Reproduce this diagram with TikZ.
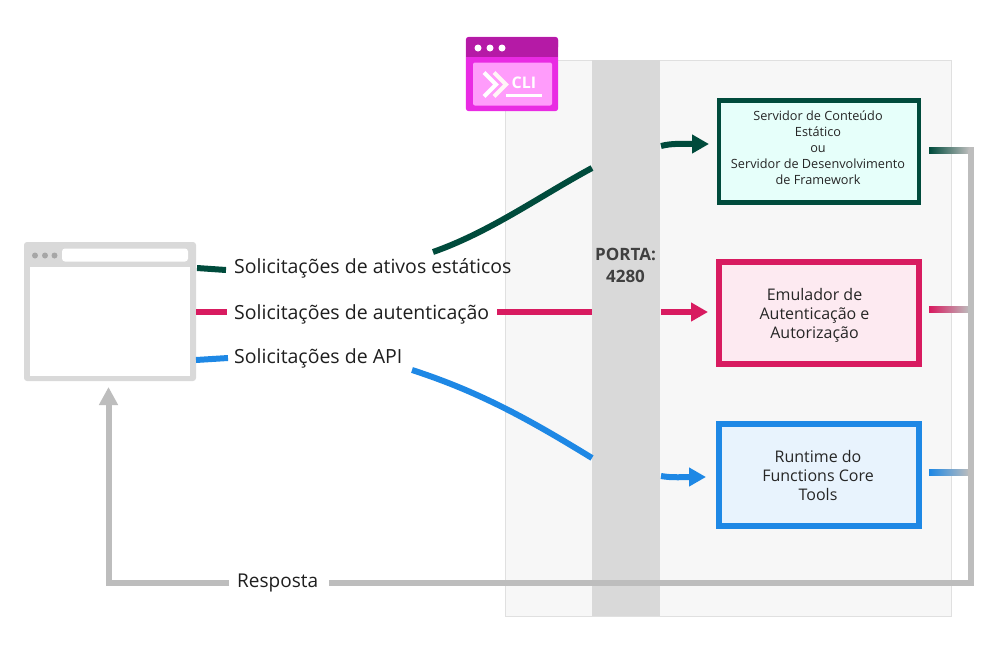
\documentclass[tikz,border=0pt]{standalone}
\usepackage{fontspec}
\setmainfont{Open Sans}
\usetikzlibrary{arrows.meta,positioning}
\definecolor{verde}{HTML}{004B3C}
\definecolor{rosa}{HTML}{D81B60}
\definecolor{azul}{HTML}{1E88E5}
\definecolor{cinza}{HTML}{BDBDBD}
\definecolor{porta}{HTML}{D9D9D9}
\tikzset{
	caixa/.style={draw, line width=#1, inner sep=0pt},
	texto/.style={align=center, inner sep=0pt, text=black!85},
	rotulo/.style={font=\fontsize{19.5}{22}\selectfont, text=black!88, inner sep=0pt, anchor=west},
	fluxo/.style={line width=6pt},
	seta/.style={line width=6pt, -{Triangle[length=17pt,width=18pt]}},
	retorno/.style={draw=cinza, line width=6pt},
	saida/.style={minimum width=40pt, minimum height=6pt, inner sep=0pt, anchor=west, right color=cinza},
	bolinha/.style={circle, fill=#1, inner sep=0pt, minimum size=7pt}
}
\begin{document}
\begin{tikzpicture}[x=1pt,y=-1pt]
	\useasboundingbox (0,0) rectangle (1000,654);
	\fill[white] (0,0) rectangle (1000,654);

	\node[draw=black!12, fill=black!3, line width=1pt, minimum width=446pt, minimum height=556pt, inner sep=0pt] (painel) at (728,338) { };
	\node[fill=porta, minimum width=68pt, minimum height=556pt, inner sep=0pt] (barra) at (626,338) { };
	\node[font=\fontsize{17}{22}\selectfont\bfseries, text=black!75, align=center, inner sep=0pt] (porta) at (625.5,265) {PORTA:\\4280};

	% janela do navegador
	\node[fill=porta, rounded corners=3pt, minimum width=172pt, minimum height=139pt, inner sep=0pt] (browser) at (110,311.5) { };
	\node[fill=white, minimum width=160pt, minimum height=109pt, inner sep=0pt] (pagina) at (110,321) { };
	\node[fill=white, rounded corners=3pt, minimum width=126pt, minimum height=13pt, inner sep=0pt] (endereco) at (125,255) { };
	\node[bolinha=black!35, minimum size=6pt] (b1) at (35,255.5) { };
	\node[bolinha=black!35, minimum size=6pt] (b2) at (45,255.5) { };
	\node[bolinha=black!35, minimum size=6pt] (b3) at (54.5,255.5) { };

	% icone da CLI
	\node[fill=black, fill opacity=0, minimum width=92pt, minimum height=74pt, inner sep=0pt] (cli) at (512,74) { };
	\fill[fill={rgb,255:red,233;green,43;blue,227}, rounded corners=3pt] (cli.north west) rectangle (cli.south east);
	\fill[fill={rgb,255:red,181;green,26;blue,166}, rounded corners=3pt] (466,37) rectangle (558,50);
	\fill[fill={rgb,255:red,181;green,26;blue,166}] (466,46) rectangle (558,57);
	\fill[fill={rgb,255:red,255;green,156;blue,251}, rounded corners=2pt] (473,62.5) rectangle (552,105.5);
	\node[bolinha=white] (c1) at (478,48) { };
	\node[bolinha=white] (c2) at (490,48) { };
	\node[bolinha=white] (c3) at (502,48) { };
	\draw[white!85!pink, line width=4pt] (494,72.5) -- (506,84.5) -- (494,96.5);
	\draw[white, line width=4pt] (484,72.5) -- (496,84.5) -- (484,96.5);
	\node[font=\fontsize{16}{16}\selectfont\bfseries, text=white, inner sep=0pt] (clitxt) at (524,83) {CLI};
	\draw[white, line width=3pt] (506,95.5) -- (542,95.5);

	% servidores
	\node[caixa=4.5pt, draw=verde, fill={rgb,255:red,230;green,255;blue,250}, minimum width=200pt, minimum height=102pt] (estatico) at (819,151.5) { };
	\node[caixa=6pt, draw=rosa, fill={rgb,255:red,253;green,234;blue,241}, minimum width=200pt, minimum height=102pt] (emulador) at (819,313) { };
	\node[caixa=6pt, draw=azul, fill={rgb,255:red,232;green,243;blue,253}, minimum width=200pt, minimum height=102pt] (runtime) at (819,474.5) { };
	\node[texto, font=\fontsize{12.7}{16}\selectfont] (estaticotxt) at (818,148) {Servidor de Conteúdo\\Estático\\ou\\Servidor de Desenvolvimento\\de Framework};
	\node[texto, font=\fontsize{16}{19}\selectfont] (emuladortxt) at (814.5,315) {Emulador de\\Autenticação e\\Autorização};
	\node[texto, font=\fontsize{16}{19}\selectfont] (runtimetxt) at (818,475) {Runtime do\\Functions Core\\Tools};

	% rotulos
	\node[rotulo] (ativos) at (234,268.5) {Solicitações de ativos estáticos};
	\node[rotulo] (autent) at (234,314.5) {Solicitações de autenticação};
	\node[rotulo] (api) at (234,358.5) {Solicitações de API};
	\node[rotulo, font=\fontsize{19}{22}\selectfont] (resposta) at (237,582.5) {Resposta};

	% pontos livres nas extremidades
	\coordinate (e1) at (433,252);
	\coordinate (e2) at (592,168);
	\coordinate (e3) at (661,146);
	\coordinate (e4) at (709,144);
	\coordinate (r1) at (497,312);
	\coordinate (r2) at (592,312);
	\coordinate (r3) at (661,312);
	\coordinate (r4) at (708,312);
	\coordinate (a1) at (412,370);
	\coordinate (a2) at (592,458);
	\coordinate (a3) at (661,476);
	\coordinate (a4) at (706,477);
	\coordinate (g1) at (226,270);
	\coordinate (g2) at (197,268);
	\coordinate (p1) at (227,312);
	\coordinate (p2) at (196,312);
	\coordinate (z1) at (228,358);
	\coordinate (z2) at (196,360);

	\draw[fluxo, verde] (g2) -- (g1);
	\draw[fluxo, rosa] (p2) -- (p1);
	\draw[fluxo, azul] (z2) -- (z1);

	\draw[fluxo, verde] (e1) .. controls (490,232) and (540,196) .. (e2);
	\draw[seta, verde] (e3) .. controls (672,143) and (685,144) .. (e4);
	\draw[fluxo, rosa] (r1) -- (r2);
	\draw[seta, rosa] (r3) -- (r4);
	\draw[fluxo, azul] (a1) .. controls (480,392) and (530,420) .. (a2);
	\draw[seta, azul] (a3) .. controls (672,478) and (685,477) .. (a4);

	% caminho de volta
	\coordinate (v1) at (970.5,150);
	\coordinate (v2) at (970.5,582.5);
	\coordinate (v3) at (329,582.5);
	\coordinate (v4) at (229,582.5);
	\coordinate (v5) at (108.5,582.5);
	\coordinate (v6) at (108.5,387);
	\node[saida, left color=verde] (sv) at (929,150) { };
	\node[saida, left color=rosa] (sr) at (929,309) { };
	\node[saida, left color=azul] (sa) at (929,472) { };
	\draw[retorno, line join=miter] (sv.east) -- (v1) -- (v2) -- (v3);
	\draw[retorno, line join=miter, -{Triangle[length=18pt,width=18pt]}] (v4) -- (v5) -- (v6);
\end{tikzpicture}
\end{document}
